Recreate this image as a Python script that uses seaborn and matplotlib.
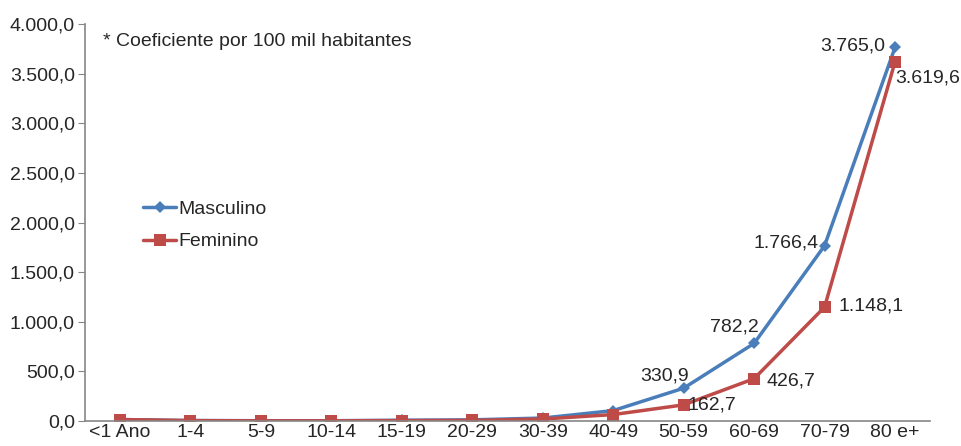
import seaborn as sns
import matplotlib.pyplot as plt
from matplotlib.ticker import FuncFormatter

faixas = ['<1 Ano', '1-4', '5-9', '10-14', '15-19', '20-29', '30-39', '40-49',
          '50-59', '60-69', '70-79', '80 e+']
masculino = [15, 5, 3, 3, 8, 12, 30, 105, 330.9, 782.2, 1766.4, 3765.0]
feminino = [15, 4, 2, 2, 4, 6, 20, 65, 162.7, 426.7, 1148.1, 3619.6]

def br(v):
    s = f'{v:,.1f}'
    return s.replace(',', 'X').replace('.', ',').replace('X', '.')

sns.set_style('white')
plt.rcParams['font.family'] = ['Liberation Sans', 'DejaVu Sans']
FS = 14

fig = plt.figure(figsize=(9.62, 4.46), dpi=100)
ax = fig.add_axes([0.088, 0.056, 0.879, 0.89])

x = list(range(len(faixas)))
sns.lineplot(x=x, y=masculino, ax=ax, color='#4a7ebb', marker='D', markersize=6,
             linewidth=2.5, markeredgewidth=0, label='Masculino')
sns.lineplot(x=x, y=feminino, ax=ax, color='#be4b48', marker='s', markersize=8.5,
             linewidth=2.5, markeredgewidth=0, label='Feminino')

ax.set_xlim(-0.5, len(faixas) - 0.5)
ax.set_ylim(0, 4000)
ax.set_yticks(range(0, 4001, 500))
ax.yaxis.set_major_formatter(FuncFormatter(lambda v, p: br(v)))
ax.set_xticks(x)
ax.set_xticklabels(faixas)
ax.set_xticks([i + 0.5 for i in range(-1, len(faixas))], minor=True)
ax.tick_params(axis='x', which='major', length=0, labelsize=FS, pad=2)
ax.tick_params(axis='x', which='minor', length=5, color='#868686', direction='out')
ax.tick_params(axis='y', length=5, color='#868686', direction='out', labelsize=FS,
               left=True, pad=2)

for s in ['top', 'right']:
    ax.spines[s].set_visible(False)
for s in ['left', 'bottom']:
    ax.spines[s].set_color('#868686')
    ax.spines[s].set_linewidth(1.2)

# rótulos dos pontos: deslocamentos em pontos (dx, dy, ha)
pos_m = {8: (4, 9, 'right'), 9: (3, 12, 'right'), 10: (-4, 2, 'right'), 11: (-7, 1, 'right')}
pos_f = {8: (3, 0, 'left'), 9: (9, -2, 'left'), 10: (10, 1, 'left'), 11: (0, -12, 'left')}
for i in range(8, 12):
    dx, dy, ha = pos_m[i]
    ax.annotate(br(masculino[i]), (i, masculino[i]), xytext=(dx, dy),
                textcoords='offset points', ha=ha, va='center', fontsize=FS)
    dx, dy, ha = pos_f[i]
    ax.annotate(br(feminino[i]), (i, feminino[i]), xytext=(dx, dy),
                textcoords='offset points', ha=ha, va='center', fontsize=FS)

ax.text(0.022, 0.955, '* Coeficiente por 100 mil habitantes', transform=ax.transAxes,
        fontsize=FS, va='center')

ax.legend(loc='upper left', bbox_to_anchor=(0.06, 0.575), frameon=False, fontsize=FS,
          handlelength=1.7, handletextpad=0.1, labelspacing=0.75, borderaxespad=0)

fig.savefig('out.png', dpi=100)
